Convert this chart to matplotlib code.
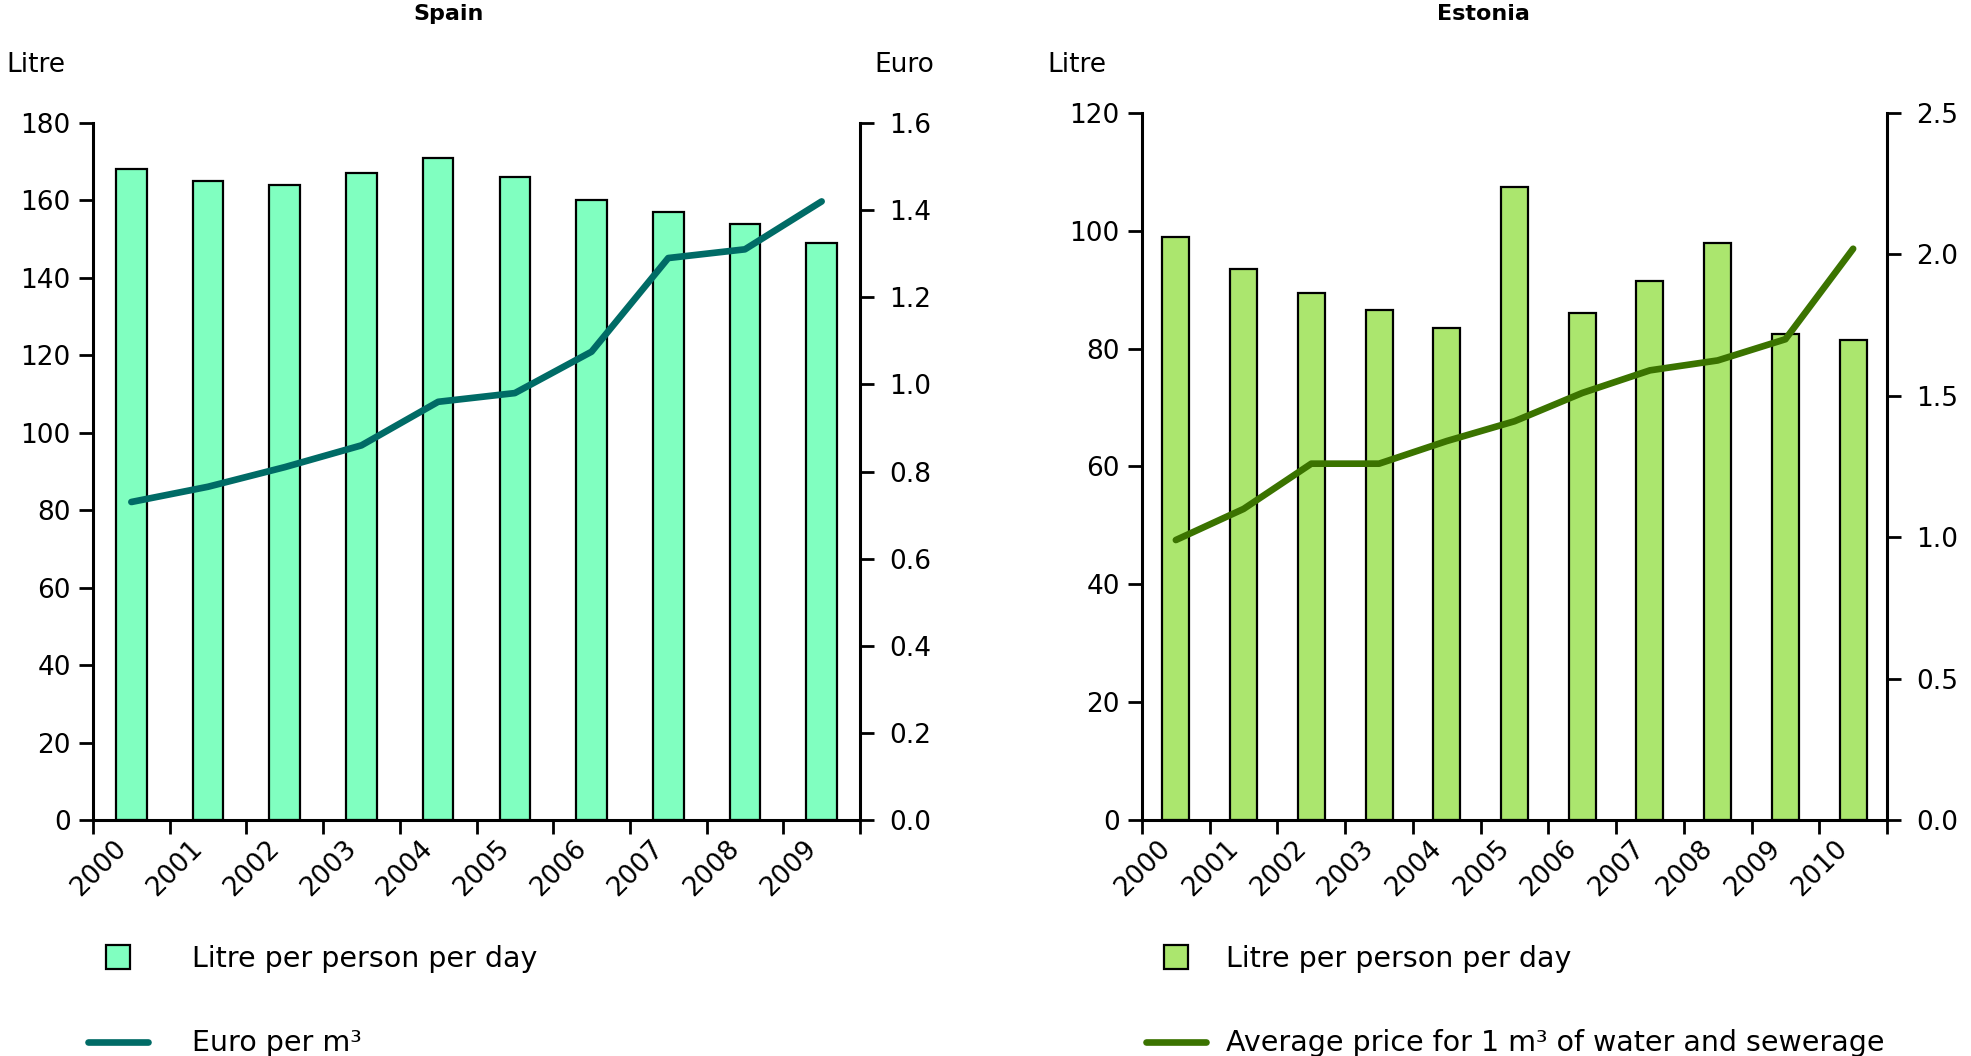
import numpy as np
import matplotlib.pyplot as plt
import matplotlib.patches as mpatches
from matplotlib.legend_handler import HandlerPatch
from matplotlib.transforms import ScaledTranslation

plt.rcParams['font.family'] = ['DejaVu Sans']

# Spain
es_years = ['2000', '2001', '2002', '2003', '2004', '2005', '2006', '2007', '2008', '2009']
es_litre = [168, 165, 164, 167, 171, 166, 160, 157, 154, 149]
es_euro = [0.73, 0.765, 0.81, 0.86, 0.96, 0.98, 1.075, 1.29, 1.31, 1.42]

# Estonia
ee_years = ['2000', '2001', '2002', '2003', '2004', '2005', '2006', '2007', '2008', '2009', '2010']
ee_litre = [99, 93.5, 89.5, 86.5, 83.5, 107.5, 86, 91.5, 98, 82.5, 81.5]
ee_price = [0.99, 1.10, 1.26, 1.26, 1.34, 1.41, 1.51, 1.59, 1.625, 1.70, 2.02]

W, H = 1971, 1056
fig = plt.figure(figsize=(W / 100, H / 100), dpi=100)


def px(x0, y0, x1, y1):
    return [x0 / W, 1 - y1 / H, (x1 - x0) / W, (y1 - y0) / H]


def square_patch(legend, orig_handle, xdescent, ydescent, width, height, fontsize):
    s = height * 1.2
    return mpatches.Rectangle((-xdescent + width / 2 - s / 2, -ydescent + height / 2 - s / 2), s, s)


def panel(rect, years, bars, line, ymax, ystep, y2max, y2step, barcol, linecol):
    ax = fig.add_axes(rect)
    n = len(years)
    x = np.arange(n)
    b = ax.bar(x, bars, width=0.4, color=barcol, edgecolor='black', linewidth=1.6, zorder=2)
    ax.set_xlim(-0.5, n - 0.5)
    ax.set_ylim(0, ymax)
    ax.set_yticks(np.arange(0, ymax + 1, ystep))
    ax.set_xticks(np.arange(n + 1) - 0.5)
    ax.set_xticklabels([])
    ax.set_xticks(x, minor=True)
    ax.set_xticklabels(years, minor=True, rotation=45, ha='right')
    for lab in ax.get_xticklabels(minor=True):
        lab.set_transform(lab.get_transform() + ScaledTranslation(0.1, 0, fig.dpi_scale_trans))
    ax.tick_params(axis='x', which='minor', length=0, pad=11, labelsize=19)
    ax.tick_params(axis='x', which='major', length=10, width=2, direction='out')
    ax.tick_params(axis='y', length=10, width=2, direction='out', labelsize=19, pad=6)
    for s in ['top', 'right']:
        ax.spines[s].set_visible(False)
    for s in ['left', 'bottom']:
        ax.spines[s].set_linewidth(2.2)

    ax2 = ax.twinx()
    ln, = ax2.plot(x, line, color=linecol, linewidth=4.8, solid_capstyle='round', solid_joinstyle='round', zorder=3)
    ax2.set_ylim(0, y2max)
    ax2.set_yticks(np.round(np.arange(0, y2max + 1e-9, y2step), 2))
    ax2.yaxis.set_major_formatter(plt.FormatStrFormatter('%.1f'))
    ax2.tick_params(axis='y', length=10, width=2, direction='out', labelsize=19, pad=11)
    for s in ['top', 'left', 'bottom']:
        ax2.spines[s].set_visible(False)
    ax2.spines['right'].set_linewidth(2.2)
    return ax, b, ln


ax_es, b_es, l_es = panel(px(93, 123, 860, 820), es_years, es_litre, es_euro,
                          180, 20, 1.6, 0.2, '#80ffc0', '#006b66')
ax_ee, b_ee, l_ee = panel(px(1142, 113, 1887, 820), ee_years, ee_litre, ee_price,
                          120, 20, 2.5, 0.5, '#abe66e', '#3b7300')

fig.text(449 / W, 1 - 14 / H, 'Spain', ha='center', va='center', fontsize=16, fontweight='bold')
fig.text(1483 / W, 1 - 14 / H, 'Estonia', ha='center', va='center', fontsize=16, fontweight='bold')
fig.text(6 / W, 1 - 65 / H, 'Litre', ha='left', va='center', fontsize=19)
fig.text(874 / W, 1 - 65 / H, 'Euro', ha='left', va='center', fontsize=19)
fig.text(1047 / W, 1 - 65 / H, 'Litre', ha='left', va='center', fontsize=19)

hm = {mpatches.Rectangle: HandlerPatch(patch_func=square_patch)}
fig.legend([b_es.patches[0], l_es], ['Litre per person per day', 'Euro per m³'],
           loc='center left', bbox_to_anchor=(88 / W, 1 - 1001 / H), frameon=False,
           fontsize=20.5, handlelength=2.1, handletextpad=1.55, labelspacing=2.0,
           borderpad=0, borderaxespad=0, handler_map=hm)
fig.legend([b_ee.patches[0], l_ee], ['Litre per person per day', 'Average price for 1 m³ of water and sewerage'],
           loc='center left', bbox_to_anchor=(1146 / W, 1 - 1001 / H), frameon=False,
           fontsize=20.5, handlelength=2.1, handletextpad=0.7, labelspacing=2.0,
           borderpad=0, borderaxespad=0, handler_map=hm)

fig.savefig('out.png', dpi=100)
